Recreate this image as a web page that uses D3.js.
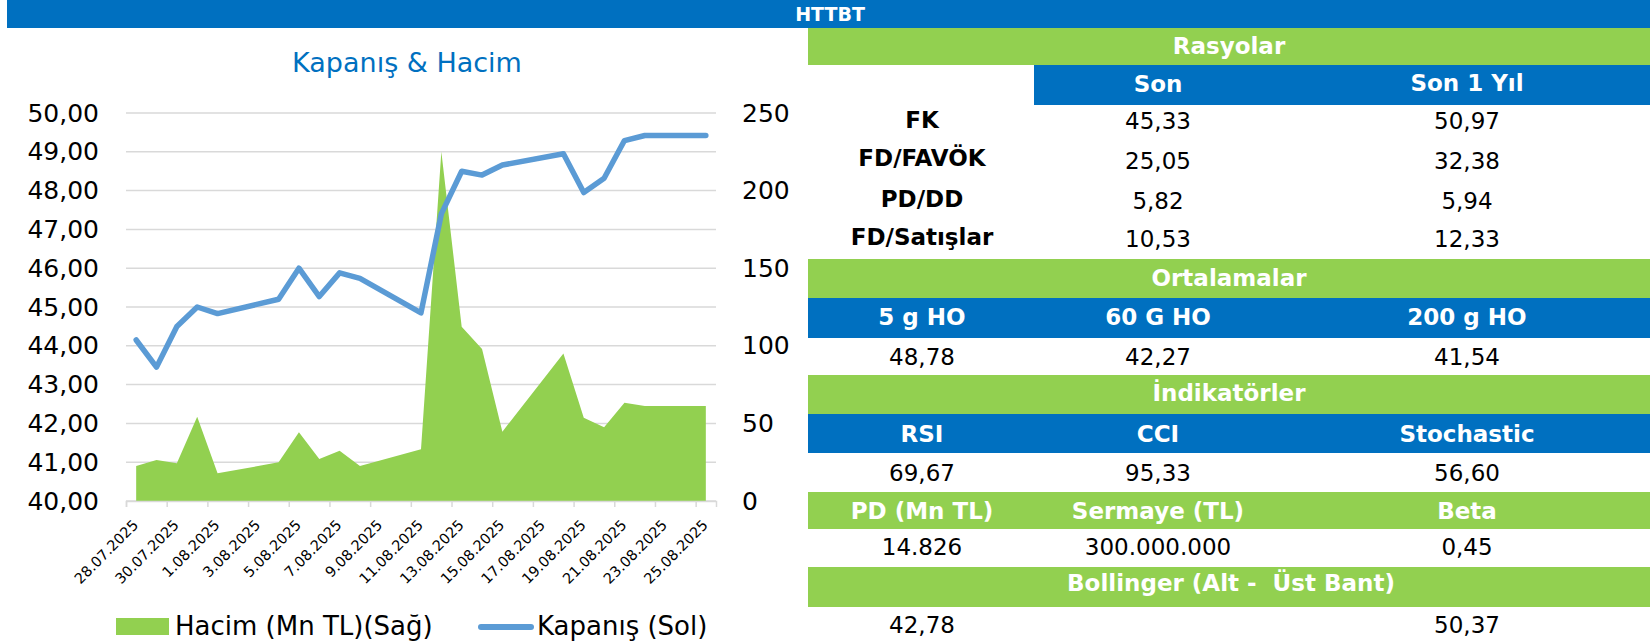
<!DOCTYPE html>
<html>
<head>
<meta charset="utf-8">
<script src="https://cdn.jsdelivr.net/npm/d3@7"></script>
<style>
  body { margin: 0; background: #fff; }
  svg { display: block; font-family: "DejaVu Sans", sans-serif; }
</style>
</head>
<body>
<div id="chart"></div>
<script>
// trading days and values
const dates = ["28.07.2025", "29.07.2025", "30.07.2025", "31.07.2025", "01.08.2025",
    "04.08.2025", "05.08.2025", "06.08.2025", "07.08.2025", "08.08.2025",
    "11.08.2025", "12.08.2025", "13.08.2025", "14.08.2025", "15.08.2025",
    "18.08.2025", "19.08.2025", "20.08.2025", "21.08.2025", "22.08.2025", "25.08.2025"];
const closes = [44.15, 43.45, 44.50, 45.00, 44.83,
    45.20, 46.00, 45.27, 45.88, 45.74,
    44.85, 47.40, 48.50, 48.40, 48.66,
    48.95, 47.95, 48.32, 49.29, 49.42, 49.42];
const volumes = [22.6, 26.4, 24.3, 54.3, 17.8,
    24.9, 44.3, 27.1, 32.4, 22.6,
    33.3, 225, 112.3, 98, 44.7,
    95.1, 53.7, 47.5, 63.3, 61.2, 61.2];

const leftTicks = [40, 41, 42, 43, 44, 45, 46, 47, 48, 49, 50];
const rightTicks = [0, 50, 100, 150, 200, 250];

// table contents
const ratioLabels = ["FK", "FD/FAVÖK", "PD/DD", "FD/Satışlar"];
const ratioSon = ["45,33", "25,05", "5,82", "10,53"];
const ratioYil = ["50,97", "32,38", "5,94", "12,33"];
const maHeaders = ["5 g HO", "60 G HO", "200 g HO"];
const maValues = ["48,78", "42,27", "41,54"];
const indHeaders = ["RSI", "CCI", "Stochastic"];
const indValues = ["69,67", "95,33", "56,60"];
const infoHeaders = ["PD (Mn TL)", "Sermaye (TL)", "Beta"];
const infoValues = ["14.826", "300.000.000", "0,45"];
const bollValues = ["42,78", "", "50,37"];

const BLUE = "#0070C0", GREEN = "#92D050", LINE = "#5B9BD5", GRID = "#D9D9D9";

const parse = d3.timeParse("%d.%m.%Y");
const data = dates.map((d, i) => ({ date: parse(d), close: closes[i], vol: volumes[i] }));

const svg = d3.select("#chart").append("svg")
    .attr("width", 1650)
    .attr("height", 643);

// top band
svg.append("rect").attr("x", 7).attr("y", 0).attr("width", 1643).attr("height", 28).attr("fill", BLUE);
svg.append("text").attr("x", 830).attr("y", 14).attr("dy", "0.36em")
    .attr("text-anchor", "middle").attr("fill", "#fff")
    .style("font-weight", "bold").style("font-size", "19px").text("HTTBT");

// ---- chart ----
const x0 = 126, x1 = 716, yTop = 113, yBot = 501;
const start = parse(dates[0]);
const end = d3.timeDay.offset(parse(dates[dates.length - 1]), 1);

const x = d3.scaleTime().domain([start, end]).range([x0, x1]);
const mid = d => x(d3.timeHour.offset(d, 12));
const yL = d3.scaleLinear().domain([40, 50]).range([yBot, yTop]);
const yR = d3.scaleLinear().domain([0, 250]).range([yBot, yTop]);

const fmt = d3.formatLocale({ decimal: ",", thousands: ".", grouping: [3], currency: ["", ""] }).format(".2f");

svg.append("text").attr("x", 407).attr("y", 62).attr("dy", "0.36em")
    .attr("text-anchor", "middle").attr("fill", BLUE)
    .style("font-size", "27px").text("Kapanış & Hacim");

// gridlines
svg.append("g").selectAll("line").data(leftTicks).enter().append("line")
    .attr("x1", x0).attr("x2", x1)
    .attr("y1", d => yL(d)).attr("y2", d => yL(d))
    .attr("stroke", GRID).attr("stroke-width", 1.5);

// left axis
const gL = svg.append("g").attr("transform", `translate(${x0},0)`)
    .call(d3.axisLeft(yL).tickValues(leftTicks).tickFormat(fmt).tickSize(0).tickPadding(27));
gL.select(".domain").remove();
gL.selectAll("text").style("font-size", "25px").style("font-family", "DejaVu Sans").attr("fill", "#000");

// right axis
const gR = svg.append("g").attr("transform", `translate(${x1},0)`)
    .call(d3.axisRight(yR).tickValues(rightTicks).tickSize(0).tickPadding(26));
gR.select(".domain").remove();
gR.selectAll("text").style("font-size", "25px").style("font-family", "DejaVu Sans").attr("fill", "#000");

// volume area
svg.append("path").datum(data)
    .attr("fill", GREEN)
    .attr("d", d3.area().x(d => mid(d.date)).y0(yR(0)).y1(d => yR(d.vol)));

// bottom axis: tick marks every 2 days at slot boundaries
const tickDays = d3.timeDay.range(start, end, 2);
const gB = svg.append("g").attr("transform", `translate(0,${yBot})`)
    .call(d3.axisBottom(x).tickValues(tickDays).tickFormat("").tickSize(6));
gB.select(".domain").attr("stroke", GRID).attr("stroke-width", 1.5);
gB.selectAll(".tick line").attr("stroke", GRID).attr("stroke-width", 1.5);

const labFmt = d => d3.timeFormat("%-d.%m.%Y")(d);
svg.append("g").selectAll("text").data(tickDays).enter().append("text")
    .attr("transform", d => `translate(${mid(d) + 3},${yBot + 25}) rotate(-45)`)
    .attr("text-anchor", "end")
    .style("font-size", "14.5px")
    .text(labFmt);

// close line
svg.append("path").datum(data)
    .attr("fill", "none")
    .attr("stroke", LINE)
    .attr("stroke-width", 5.5)
    .attr("stroke-linejoin", "round")
    .attr("stroke-linecap", "round")
    .attr("d", d3.line().x(d => mid(d.date)).y(d => yL(d.close)));

// legend
svg.append("rect").attr("x", 116).attr("y", 618).attr("width", 53).attr("height", 17).attr("fill", GREEN);
svg.append("text").attr("x", 175).attr("y", 626).attr("dy", "0.36em").style("font-size", "26px").text("Hacim (Mn TL)(Sağ)");
svg.append("line").attr("x1", 481).attr("x2", 531).attr("y1", 627).attr("y2", 627)
    .attr("stroke", LINE).attr("stroke-width", 6).attr("stroke-linecap", "round");
svg.append("text").attr("x", 537).attr("y", 626).attr("dy", "0.36em").style("font-size", "26px").text("Kapanış (Sol)");

// ---- tables ----
const tx0 = 808, tx1 = 1650;
const cols = [922, 1158, 1467];

function band(y0, y1, color, xs) {
    svg.append("rect").attr("x", xs || tx0).attr("y", y0)
        .attr("width", tx1 - (xs || tx0)).attr("height", y1 - y0).attr("fill", color);
}
function txt(xc, yc, s, bold, color) {
    svg.append("text").attr("x", xc).attr("y", yc).attr("dy", "0.36em")
        .attr("text-anchor", "middle")
        .attr("fill", color || "#000")
        .style("font-size", "23px")
        .style("font-weight", bold ? "bold" : "normal")
        .style("white-space", "pre")
        .text(s);
}

band(28, 65, GREEN);
txt(1229, 46, "Rasyolar", true, "#fff");
band(65, 105, BLUE, 1034);
txt(cols[1], 84, "Son", true, "#fff");
txt(cols[2], 83, "Son 1 Yıl", true, "#fff");
const labelY = [120, 158, 199, 237];
const valY = [121, 161, 201, 239];
ratioLabels.forEach((s, i) => txt(cols[0], labelY[i], s, true));
ratioSon.forEach((s, i) => txt(cols[1], valY[i], s, false));
ratioYil.forEach((s, i) => txt(cols[2], valY[i], s, false));

band(259, 298, GREEN);
txt(1229, 278, "Ortalamalar", true, "#fff");
band(298, 338, BLUE);
maHeaders.forEach((s, i) => txt(cols[i], 317, s, true, "#fff"));
maValues.forEach((s, i) => txt(cols[i], 357, s, false));

band(375, 414, GREEN);
txt(1229, 393, "İndikatörler", true, "#fff");
band(414, 453, BLUE);
indHeaders.forEach((s, i) => txt(cols[i], 434, s, true, "#fff"));
indValues.forEach((s, i) => txt(cols[i], 473, s, false));

band(492, 529, GREEN);
infoHeaders.forEach((s, i) => txt(cols[i], 511, s, true, "#fff"));
infoValues.forEach((s, i) => txt(cols[i], 547, s, false));

band(567, 607, GREEN);
txt(1231, 583, "Bollinger (Alt -  Üst Bant)", true, "#fff");
bollValues.forEach((s, i) => txt(cols[i], 625, s, false));
</script>
</body>
</html>
